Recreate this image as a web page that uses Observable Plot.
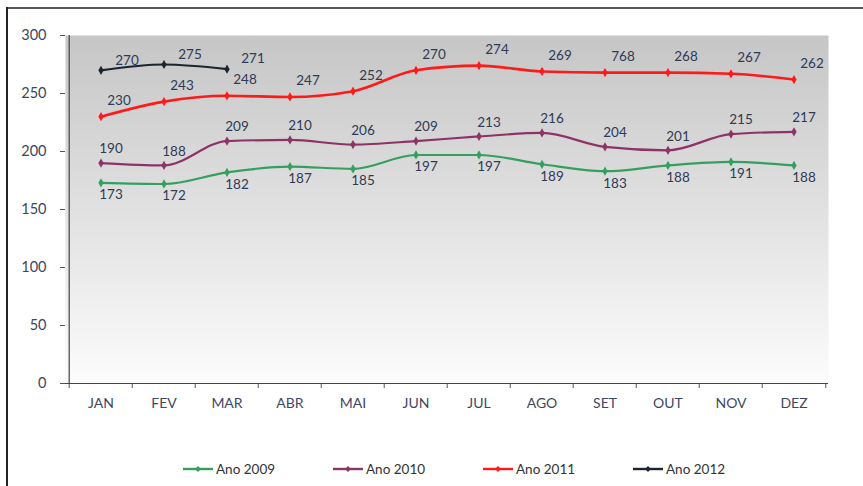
<!DOCTYPE html>
<html>
<head>
<meta charset="utf-8">
<script src="https://cdn.jsdelivr.net/npm/d3@7"></script>
<script src="https://cdn.jsdelivr.net/npm/@observablehq/plot@0.6"></script>
<style>
  html, body { margin: 0; padding: 0; background: #fff; }
  #wrap { position: relative; width: 863px; height: 486px; overflow: hidden; font-family: Lato, "Open Sans", sans-serif; }
  #topline { position: absolute; left: 7px; right: 0; top: 7px; height: 2px; background: #555; }
  #leftline { position: absolute; left: 6px; top: 7px; bottom: 0; width: 2px; background: #222; }
  #chart { position: absolute; left: 0; top: 0; }
  #legend { position: absolute; left: 183px; top: 461px; display: flex; }
  .item { width: 150px; display: flex; align-items: center; font-size: 13.5px; color: #333; }
  .item svg { margin-right: 3px; }
</style>
</head>
<body>
<div id="wrap">
  <div id="chart"></div>
  <div id="topline"></div>
  <div id="leftline"></div>
  <div id="legend"></div>
</div>
<script>
const months = ["JAN","FEV","MAR","ABR","MAI","JUN","JUL","AGO","SET","OUT","NOV","DEZ"];
const seriesNames = ["Ano 2009","Ano 2010","Ano 2011","Ano 2012"];
const seriesColors = ["#33a060","#8e3366","#ff1a1a","#1c2430"];
const v2009 = [173,172,182,187,185,197,197,189,183,188,191,188];
const v2010 = [190,188,209,210,206,209,213,216,204,201,215,217];
const v2011 = [230,243,248,247,252,270,274,269,268,268,267,262];
const labels2011 = ["230","243","248","247","252","270","274","269","768","268","267","262"];
const v2012 = [270,275,271];
const yTicks = [0,50,100,150,200,250,300];

const seriesValues = [v2009, v2010, v2011, v2012];
const seriesLabels = [v2009.map(String), v2010.map(String), labels2011, v2012.map(String)];
const rows = seriesNames.flatMap((s, i) =>
  seriesValues[i].map((v, j) => ({series: s, month: months[j], value: v, label: seriesLabels[i][j]})));

const W = 863, H = 440, ML = 65, MR = 35, MT = 35, MB = 57;
const bw = (W - ML - MR) / months.length;
const labelFont = {fontFamily: "Lato, sans-serif", fontSize: 13.5, fill: "#2f3a56"};
const labelOffsets = {
  "Ano 2009": {dx: 10, dy: 12},
  "Ano 2010": {dx: 10, dy: -14},
  "Ano 2011": {dx: 18, dy: -16},
  "Ano 2012": {dx: 26, dy: -10}
};

const lineMarks = seriesNames.flatMap((s, i) => {
  const d = rows.filter(r => r.series === s);
  return [
    Plot.line(d, {x: "month", y: "value", stroke: seriesColors[i], strokeWidth: s === "Ano 2011" ? 2.6 : 2.2, curve: "monotone-x"}),
    Plot.dot(d, {x: "month", y: "value", fill: seriesColors[i], symbol: "diamond", r: 2.8}),
    Plot.text(d, {x: "month", y: "value", text: "label", ...labelOffsets[s], ...labelFont})
  ];
});

const chart = Plot.plot({
  width: W, height: H,
  marginLeft: ML, marginRight: MR, marginTop: MT, marginBottom: MB,
  style: {background: "transparent", fontFamily: "Lato, sans-serif"},
  x: {type: "band", domain: months, padding: 0},
  y: {domain: [0, 300]},
  marks: [
    Plot.frame({fill: "url(#bggrad)", stroke: null}),
    Plot.axisY({ticks: yTicks, tickSize: 5, tickPadding: 14, fontSize: 14.5, fill: "#3b4660", stroke: "#555", label: null}),
    Plot.axisX({tickSize: 0, tickPadding: 15, fontSize: 14, fill: "#3e4866", label: null}),
    Plot.axisX({tickSize: 5, dx: -bw / 2, tickFormat: () => "", stroke: "#555", label: null}),
    Plot.axisX(["DEZ"], {tickSize: 5, dx: bw / 2, tickFormat: () => "", stroke: "#555", label: null}),
    Plot.ruleY([0], {stroke: "#444", strokeWidth: 1.2}),
    Plot.ruleX(["JAN"], {dx: -bw / 2, y1: 0, y2: 300, stroke: "#444", strokeWidth: 1.2}),
    ...lineMarks
  ]
});

d3.select(chart).insert("defs", ":first-child").html(
  `<linearGradient id="bggrad" x1="0" y1="0" x2="0" y2="1">
     <stop offset="0" stop-color="#c6c6c6"/>
     <stop offset="0.45" stop-color="#dedede"/>
     <stop offset="1" stop-color="#fcfcfc"/>
   </linearGradient>`);
document.getElementById("chart").appendChild(chart);

const legend = d3.select("#legend");
seriesNames.forEach((s, i) => {
  const it = legend.append("div").attr("class", "item");
  const sv = it.append("svg").attr("width", 30).attr("height", 10);
  sv.append("line").attr("x1", 0).attr("x2", 30).attr("y1", 5).attr("y2", 5)
    .attr("stroke", seriesColors[i]).attr("stroke-width", 2.4);
  sv.append("path").attr("d", "M15,2 L18,5 L15,8 L12,5 Z").attr("fill", seriesColors[i]);
  it.append("span").text(s);
});
</script>
</body>
</html>
